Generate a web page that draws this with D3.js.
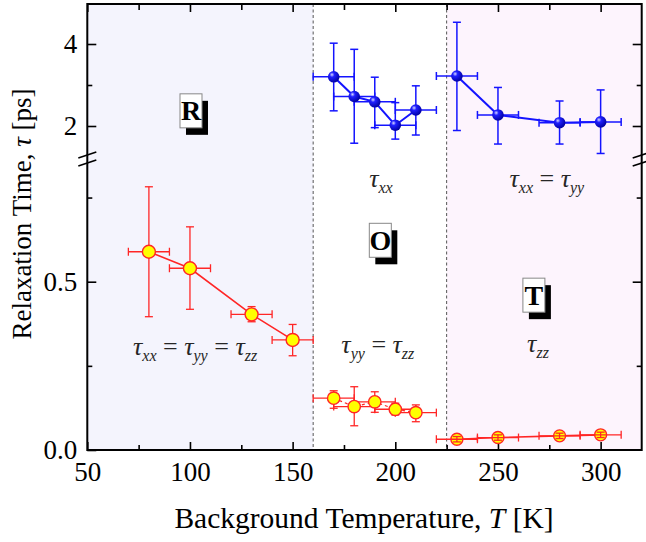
<!DOCTYPE html>
<html><head><meta charset="utf-8">
<script src="https://cdn.jsdelivr.net/npm/d3@7"></script>
<style>
body{margin:0;background:#fff}
svg{display:block}
svg text{font-family:"Liberation Serif","Times New Roman",serif}
</style>
</head><body>
<svg id="c" width="646" height="542"></svg>
<script>
// ---------- data ----------
const blueO_T = [170, 180, 190, 200, 210];
const blueO_V = [3.20, 2.72, 2.59, 2.02, 2.39];
const blueO_hi = [4.02, 3.87, 3.19, 2.57, 2.98];
const blueO_lo = [2.37, 1.58, 1.96, 1.68, 1.78];

const blueT_T = [230, 250, 280, 300];
const blueT_V = [3.22, 2.27, 2.08, 2.10];
const blueT_hi = [4.53, 2.94, 2.61, 2.88];
const blueT_lo = [1.89, 1.56, 1.56, 1.33];

const redR_T = [80, 100, 130, 150];
const redR_V = [0.589, 0.540, 0.403, 0.327];
const redR_hi = [0.782, 0.663, 0.426, 0.373];
const redR_lo = [0.396, 0.418, 0.381, 0.280];

const redO_T = [170, 180, 190, 200, 210];
const redO_V = [0.154, 0.129, 0.143, 0.121, 0.111];
const redO_hi = [0.176, 0.188, 0.173, 0.139, 0.134];
const redO_lo = [0.124, 0.072, 0.112, 0.104, 0.084];

const redT_T = [230, 250, 280, 300];
const redT_V = [0.032, 0.037, 0.042, 0.045];
const redT_hi = [0.040, 0.045, 0.050, 0.053];
const redT_lo = [0.024, 0.029, 0.034, 0.037];

const xErr = 10;
const phaseBounds = [160, 225];

const xMajor = [50, 100, 150, 200, 250, 300];
const xMinor = [75, 125, 175, 225, 275];
const xLabels = ["50", "100", "150", "200", "250", "300"];
const topMajor = [2, 4];
const topMinor = [3];
const topLabels = ["2", "4"];
const botMajor = [0, 0.5];
const botMinor = [0.25, 0.75];
const botLabels = ["0.0", "0.5"];

// ---------- layout ----------
const FONT = '"Liberation Serif","Times New Roman",serif';
const svg = d3.select("#c");
const L = 87.3, R = 641.7, T = 4, B = 450, BRK = 159;
const x = d3.scaleLinear().domain([50, 320]).range([L, R]);
const yTop = d3.scaleLinear().domain([2, 4]).range([126, 44]);
const yBot = d3.scaleLinear().domain([0, 0.5]).range([450, 281.7]);

const defs = svg.append("defs");
const gr = defs.append("radialGradient").attr("id", "sph").attr("cx", "35%").attr("cy", "32%").attr("r", "70%");
gr.append("stop").attr("offset", "0%").attr("stop-color", "#d8d8ff");
gr.append("stop").attr("offset", "30%").attr("stop-color", "#2020ff");
gr.append("stop").attr("offset", "100%").attr("stop-color", "#0000a0");

// backgrounds
svg.append("rect").attr("x", x(50)).attr("y", T).attr("width", x(phaseBounds[0]) - x(50)).attr("height", B - T).attr("fill", "#f4f4fd");
svg.append("rect").attr("x", x(phaseBounds[1])).attr("y", T).attr("width", x(320) - x(phaseBounds[1])).attr("height", B - T).attr("fill", "#fdf4fd");

// dashed phase boundaries
phaseBounds.forEach(v => {
  svg.append("line").attr("x1", x(v)).attr("x2", x(v)).attr("y1", T).attr("y2", B)
    .attr("stroke", "#555").attr("stroke-width", 1).attr("stroke-dasharray", "3,2.5");
});

// ---------- axes ----------
function styleAxis(g) {
  g.attr("font-family", FONT);
  g.select(".domain").remove();
  g.selectAll(".tick line").attr("stroke", "#000").attr("stroke-width", 1.6);
  g.selectAll(".tick text").attr("fill", "#000").style("font-size", "27px").style("font-family", FONT);
}
// bottom
svg.append("g").attr("transform", `translate(0,${B})`)
  .call(d3.axisBottom(x).tickValues(xMajor).tickSize(-8).tickPadding(12).tickFormat((d, i) => xLabels[i]))
  .call(styleAxis).selectAll(".tick text").attr("dy", "0.71em");
svg.append("g").attr("transform", `translate(0,${B})`)
  .call(d3.axisBottom(x).tickValues(xMinor).tickSize(-5).tickFormat("")).call(styleAxis);
// top
svg.append("g").attr("transform", `translate(0,${T})`)
  .call(d3.axisTop(x).tickValues(xMajor).tickSize(-8).tickFormat("")).call(styleAxis);
svg.append("g").attr("transform", `translate(0,${T})`)
  .call(d3.axisTop(x).tickValues(xMinor).tickSize(-6).tickFormat("")).call(styleAxis);
// left
svg.append("g").attr("transform", `translate(${L},0)`)
  .call(d3.axisLeft(yTop).tickValues(topMajor).tickSize(-9).tickPadding(10).tickFormat((d, i) => topLabels[i])).call(styleAxis);
svg.append("g").attr("transform", `translate(${L},0)`)
  .call(d3.axisLeft(yTop).tickValues(topMinor).tickSize(-5).tickFormat("")).call(styleAxis);
svg.append("g").attr("transform", `translate(${L},0)`)
  .call(d3.axisLeft(yBot).tickValues(botMajor).tickSize(-9).tickPadding(10).tickFormat((d, i) => botLabels[i])).call(styleAxis);
svg.append("g").attr("transform", `translate(${L},0)`)
  .call(d3.axisLeft(yBot).tickValues(botMinor).tickSize(-5).tickFormat("")).call(styleAxis);
// right
svg.append("g").attr("transform", `translate(${R},0)`)
  .call(d3.axisRight(yTop).tickValues(topMajor).tickSize(-9).tickFormat("")).call(styleAxis);
svg.append("g").attr("transform", `translate(${R},0)`)
  .call(d3.axisRight(yTop).tickValues(topMinor).tickSize(-5).tickFormat("")).call(styleAxis);
svg.append("g").attr("transform", `translate(${R},0)`)
  .call(d3.axisRight(yBot).tickValues(botMajor.slice(1)).tickSize(-9).tickFormat("")).call(styleAxis);
svg.append("g").attr("transform", `translate(${R},0)`)
  .call(d3.axisRight(yBot).tickValues(botMinor).tickSize(-5).tickFormat("")).call(styleAxis);

// frame
svg.append("rect").attr("x", L).attr("y", T).attr("width", R - L).attr("height", B - T)
  .attr("fill", "none").attr("stroke", "#000").attr("stroke-width", 2);

// break marks
[L, R].forEach(px => {
  [-4, 4].forEach(off => {
    svg.append("line").attr("x1", px - 9).attr("x2", px + 9)
      .attr("y1", BRK + off + 3).attr("y2", BRK + off - 3)
      .attr("stroke", "#000").attr("stroke-width", 1.6);
  });
});

// ---------- series ----------
function errBars(g, Ts, Vs, lo, hi, y, color, w) {
  const cap = 4;
  Ts.forEach((t, i) => {
    const cx = x(t), cy = y(Vs[i]);
    const segs = [
      [cx, y(lo[i]), cx, y(hi[i])],
      [cx - cap, y(lo[i]), cx + cap, y(lo[i])],
      [cx - cap, y(hi[i]), cx + cap, y(hi[i])],
      [x(t - xErr), cy, x(t + xErr), cy],
      [x(t - xErr), cy - cap, x(t - xErr), cy + cap],
      [x(t + xErr), cy - cap, x(t + xErr), cy + cap]
    ];
    segs.forEach(s => g.append("line").attr("x1", s[0]).attr("y1", s[1]).attr("x2", s[2]).attr("y2", s[3])
      .attr("stroke", color).attr("stroke-width", w));
  });
}
function seriesLine(g, Ts, Vs, y, color, w, dash) {
  g.append("path").datum(Ts.map((t, i) => [t, Vs[i]]))
    .attr("d", d3.line().x(d => x(d[0])).y(d => y(d[1])))
    .attr("fill", "none").attr("stroke", color).attr("stroke-width", w)
    .attr("stroke-dasharray", dash || null);
}
function markers(g, Ts, Vs, y, r, fill, stroke, sw) {
  g.selectAll(null).data(Ts.map((t, i) => [t, Vs[i]])).enter().append("circle")
    .attr("cx", d => x(d[0])).attr("cy", d => y(d[1])).attr("r", r)
    .attr("fill", fill).attr("stroke", stroke).attr("stroke-width", sw);
}

const gS = svg.append("g");
const BLUE = "#1414ff", RED = "#ff2626";
// blue
errBars(gS, blueO_T, blueO_V, blueO_lo, blueO_hi, yTop, BLUE, 1.5);
seriesLine(gS, blueO_T, blueO_V, yTop, BLUE, 2);
markers(gS, blueO_T, blueO_V, yTop, 5.8, "url(#sph)", "none", 0);
errBars(gS, blueT_T, blueT_V, blueT_lo, blueT_hi, yTop, BLUE, 1.5);
seriesLine(gS, blueT_T, blueT_V, yTop, BLUE, 2);
markers(gS, blueT_T, blueT_V, yTop, 5.8, "url(#sph)", "none", 0);
// red
errBars(gS, redR_T, redR_V, redR_lo, redR_hi, yBot, RED, 1.3);
seriesLine(gS, redR_T, redR_V, yBot, RED, 1.6);
markers(gS, redR_T, redR_V, yBot, 6.5, "#ffff00", RED, 1.4);
errBars(gS, redO_T, redO_V, redO_lo, redO_hi, yBot, RED, 1.3);
seriesLine(gS, redO_T, redO_V, yBot, RED, 1.2, "3,3");
markers(gS, redO_T, redO_V, yBot, 6.2, "#ffff00", RED, 1.4);
seriesLine(gS, redT_T, redT_V, yBot, RED, 1.6);
markers(gS, redT_T, redT_V, yBot, 6, "#ffff00", RED, 1.4);
errBars(gS, redT_T, redT_V, redT_lo, redT_hi, yBot, RED, 1.3);

// ---------- phase labels ----------
const phaseLabels = [
  {t: "R", xv: 100.5, yv: 2.37, y: yTop},
  {t: "O", xv: 192.7, yv: 0.623, y: yBot},
  {t: "T", xv: 267.5, yv: 0.46, y: yBot}
];
phaseLabels.forEach(p => {
  const cx = x(p.xv), cy = p.y(p.yv), w = 22, h = 34;
  svg.append("rect").attr("x", cx - w / 2 + 6).attr("y", cy - h / 2 + 7).attr("width", w).attr("height", h).attr("fill", "#000");
  svg.append("rect").attr("x", cx - w / 2).attr("y", cy - h / 2).attr("width", w).attr("height", h)
    .attr("fill", "#fff").attr("stroke", "#888").attr("stroke-width", 1);
  svg.append("text").attr("x", cx).attr("y", cy + 9.5).attr("text-anchor", "middle")
    .style("font-size", "28px").style("font-weight", "bold").attr("fill", "#000").text(p.t);
});

// ---------- tau annotations ----------
const tauNotes = [
  {parts: [["τ", "xx"]], xv: 193, yv: 0.782},
  {parts: [["τ", "xx"], ["τ", "yy"]], xv: 273.8, yv: 0.782},
  {parts: [["τ", "xx"], ["τ", "yy"], ["τ", "zz"]], xv: 102.5, yv: 0.282},
  {parts: [["τ", "yy"], ["τ", "zz"]], xv: 191.5, yv: 0.288},
  {parts: [["τ", "zz"]], xv: 269.5, yv: 0.291}
];
tauNotes.forEach(n => {
  const t = svg.append("text").attr("x", x(n.xv)).attr("y", yBot(n.yv)).attr("text-anchor", "middle")
    .attr("fill", "#262626").style("font-size", "26px");
  n.parts.forEach((p, i) => {
    if (i > 0) t.append("tspan").attr("dy", -6).style("font-style", "normal").text(" = ");
    t.append("tspan").attr("dy", i > 0 ? 0 : null).style("font-style", "italic").text(p[0]);
    t.append("tspan").attr("dy", 6).style("font-style", "italic").style("font-size", "16px").text(p[1]);
  });
});

// ---------- axis titles ----------
const xt = svg.append("text").attr("x", 364).attr("y", 528).attr("text-anchor", "middle")
  .style("font-size", "29.5px").attr("fill", "#000");
xt.append("tspan").text("Background Temperature, ");
xt.append("tspan").style("font-style", "italic").text("T");
xt.append("tspan").text(" [K]");

const yt = svg.append("text").attr("transform", "translate(31,214) rotate(-90)").attr("text-anchor", "middle")
  .style("font-size", "27px").attr("fill", "#000");
yt.append("tspan").text("Relaxation Time, ");
yt.append("tspan").style("font-style", "italic").text("τ");
yt.append("tspan").text(" [ps]");
</script>
</body></html>
